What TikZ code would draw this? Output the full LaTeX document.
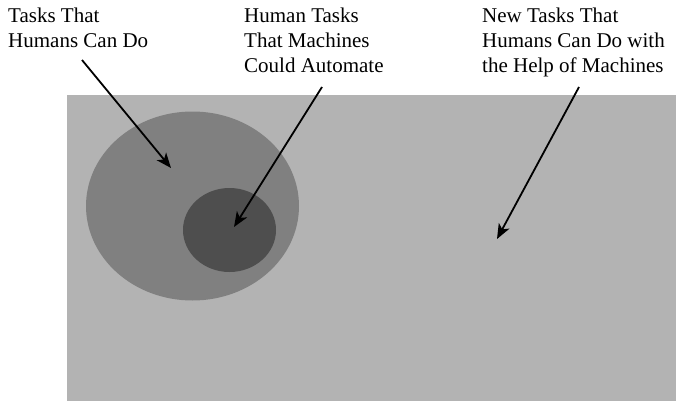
\documentclass[tikz,border=0pt]{standalone}
\usepackage{fontspec}
\setmainfont{Liberation Serif}
\usetikzlibrary{arrows.meta,shapes.geometric}
\definecolor{bgray}{RGB}{179,179,179}
\definecolor{mgray}{RGB}{128,128,128}
\definecolor{dgray}{RGB}{78,78,78}
\tikzset{
  lbl/.style={anchor=north west, inner sep=0pt, align=left,
    font=\fontsize{21pt}{25pt}\selectfont},
  pointer/.style={line width=1.8pt, -{Stealth[length=15pt,width=12pt,inset=4pt]}},
}
\begin{document}
\begin{tikzpicture}[x=1pt,y=-1pt]
\useasboundingbox (0,0) rectangle (676,401);
\fill[white] (0,0) rectangle (676,401);
\node[fill=bgray, inner sep=0pt, minimum width=609pt, minimum height=306pt, anchor=north west] (field) at (67,95) {};
\node[fill=mgray, ellipse, inner sep=0pt, minimum width=213pt, minimum height=189pt] (outer) at (192.5,206) {};
\node[fill=dgray, ellipse, inner sep=0pt, minimum width=93pt, minimum height=84pt] (inner) at (229.5,230) {};
\node[lbl] (t1) at (8,8) {Tasks That\\Humans Can Do};
\node[lbl] (t2) at (244,8) {Human Tasks\\That Machines\\Could Automate};
\node[lbl] (t3) at (482,8) {New Tasks That\\Humans Can Do with\\the Help of Machines};
\coordinate (s1) at (82,60);
\coordinate (e1) at (171,168);
\coordinate (s2) at (322,87);
\coordinate (e2) at (234,227);
\coordinate (s3) at (579,87);
\coordinate (e3) at (497,239);
\draw[pointer] (s1) -- (e1);
\draw[pointer] (s2) -- (e2);
\draw[pointer] (s3) -- (e3);
\end{tikzpicture}
\end{document}
